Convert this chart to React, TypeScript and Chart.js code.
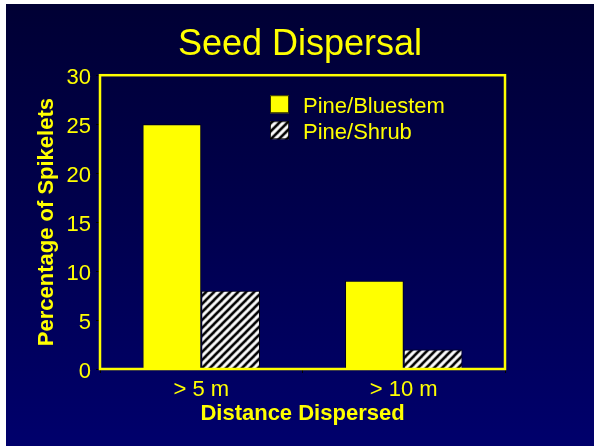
import React, { useEffect, useRef } from "react";
import { Chart, registerables } from "chart.js";

Chart.register(...registerables);

const categories = ["> 5 m", "> 10 m"];
const seriesNames = ["Pine/Bluestem", "Pine/Shrub"];
const pineBluestem = [25, 9];
const pineShrub = [8, 2];
const yTicks = [0, 5, 10, 15, 20, 25, 30];
const chartTitle = "Seed Dispersal";
const xTitle = "Distance Dispersed";
const yTitle = "Percentage of Spikelets";

const FONT = "'Liberation Sans', Arial, Helvetica, sans-serif";
const YELLOW = "#FFFF00";

function makeHatch(): CanvasPattern | string {
  const c = document.createElement("canvas");
  c.width = 8;
  c.height = 8;
  const g = c.getContext("2d");
  if (!g) return "#888";
  g.fillStyle = "#ffffff";
  g.fillRect(0, 0, 8, 8);
  const seg = (w: number, color: string) => {
    g.strokeStyle = color;
    g.lineWidth = w;
    for (const o of [-8, 0, 8]) {
      g.beginPath();
      g.moveTo(o - 2, 10);
      g.lineTo(o + 10, -2);
      g.stroke();
    }
  };
  seg(3.8, "#a8a8a8");
  seg(2.0, "#000000");
  return g.createPattern(c, "repeat") || "#888";
}

export default function App() {
  const ref = useRef<HTMLCanvasElement | null>(null);

  useEffect(() => {
    if (!ref.current) return;
    const hatch = makeHatch();

    const bgPlugin = {
      id: "bg",
      beforeDraw(chart: any) {
        const { ctx, width, height } = chart;
        const grad = ctx.createLinearGradient(0, 0, 0, height);
        grad.addColorStop(0, "#000034");
        grad.addColorStop(0.5, "#00004e");
        grad.addColorStop(1, "#00006c");
        ctx.save();
        ctx.fillStyle = grad;
        ctx.fillRect(0, 0, width, height);
        ctx.restore();
      },
    };

    const framePlugin = {
      id: "frame",
      afterDatasetsDraw(chart: any) {
        const { ctx, chartArea } = chart;
        ctx.save();
        ctx.strokeStyle = YELLOW;
        ctx.lineWidth = 2.5;
        ctx.strokeRect(
          chartArea.left,
          chartArea.top,
          chartArea.right - chartArea.left,
          chartArea.bottom - chartArea.top
        );
        ctx.restore();
      },
    };

    const legendPlugin = {
      id: "insideLegend",
      afterDraw(chart: any) {
        const { ctx, chartArea } = chart;
        const x0 = chartArea.left + 170;
        const y0 = chartArea.top + 20;
        const rowH = 26;
        ctx.save();
        chart.data.datasets.forEach((ds: any, i: number) => {
          const y = y0 + i * rowH;
          ctx.fillStyle = ds.backgroundColor;
          ctx.fillRect(x0, y, 19, 18);
          ctx.strokeStyle = "rgba(0,0,0,0.8)";
          ctx.lineWidth = 1;
          ctx.strokeRect(x0 + 0.5, y + 0.5, 18, 17);
          ctx.fillStyle = YELLOW;
          ctx.font = `22px ${FONT}`;
          ctx.textBaseline = "alphabetic";
          ctx.textAlign = "left";
          ctx.fillText(ds.label, x0 + 33, y + 18);
        });
        ctx.restore();
      },
    };

    const chart = new Chart(ref.current, {
      type: "bar",
      data: {
        labels: categories,
        datasets: [
          {
            label: seriesNames[0],
            data: pineBluestem,
            backgroundColor: YELLOW,
            borderColor: "rgba(0,0,0,0.7)",
            borderWidth: 1,
            categoryPercentage: 0.58,
            barPercentage: 1.0,
          },
          {
            label: seriesNames[1],
            data: pineShrub,
            backgroundColor: hatch as any,
            borderColor: "rgba(0,0,0,0.8)",
            borderWidth: 1,
            categoryPercentage: 0.58,
            barPercentage: 1.0,
          },
        ],
      },
      options: {
        responsive: false,
        animation: false,
        devicePixelRatio: 1,
        layout: { padding: { left: 0, right: 0, top: 0, bottom: 0 } },
        plugins: {
          legend: { display: false },
          tooltip: { enabled: false },
          title: {
            display: true,
            text: chartTitle,
            color: YELLOW,
            font: { family: FONT, size: 36, weight: "normal" },
            padding: { top: 19, bottom: 9 },
          },
        },
        scales: {
          x: {
            grid: {
              drawOnChartArea: false,
              drawTicks: true,
              tickLength: 4,
              color: "#000000",
              offset: true,
            },
            border: { display: false },
            ticks: {
              color: YELLOW,
              font: { family: FONT, size: 22 },
              padding: 4,
            },
            title: {
              display: true,
              text: xTitle,
              color: YELLOW,
              font: { family: FONT, size: 22, weight: "bold" },
              padding: { top: 0, bottom: 19 },
            },
            afterFit: (s: any) => {
              s.height = 77;
            },
          },
          y: {
            min: 0,
            max: 30,
            afterBuildTicks: (s: any) => {
              s.ticks = yTicks.map((v) => ({ value: v }));
            },
            grid: {
              drawOnChartArea: false,
              drawTicks: true,
              tickLength: 4,
              color: "#000000",
            },
            border: { display: false },
            ticks: {
              color: YELLOW,
              font: { family: FONT, size: 22 },
              padding: 5,
              labelOffset: 3,
            },
            title: {
              display: true,
              text: yTitle,
              color: YELLOW,
              font: { family: FONT, size: 22, weight: "bold" },
              padding: { top: 28, bottom: 0 },
            },
            afterFit: (s: any) => {
              s.width = 94;
            },
          },
          yRight: {
            position: "right",
            display: true,
            grid: { display: false, drawTicks: false },
            border: { display: false },
            ticks: { display: false },
            afterFit: (s: any) => {
              s.width = 89;
            },
          },
        },
      } as any,
      plugins: [bgPlugin, framePlugin, legendPlugin],
    });
    return () => chart.destroy();
  }, []);

  return (
    <div
      style={{
        position: "fixed",
        left: 0,
        top: 0,
        width: 594,
        height: 446,
        background: "#ffffff",
        overflow: "hidden",
      }}
    >
      <canvas
        ref={ref}
        width={588}
        height={442}
        style={{ position: "absolute", left: 6, top: 4, width: 588, height: 442 }}
      />
    </div>
  );
}
